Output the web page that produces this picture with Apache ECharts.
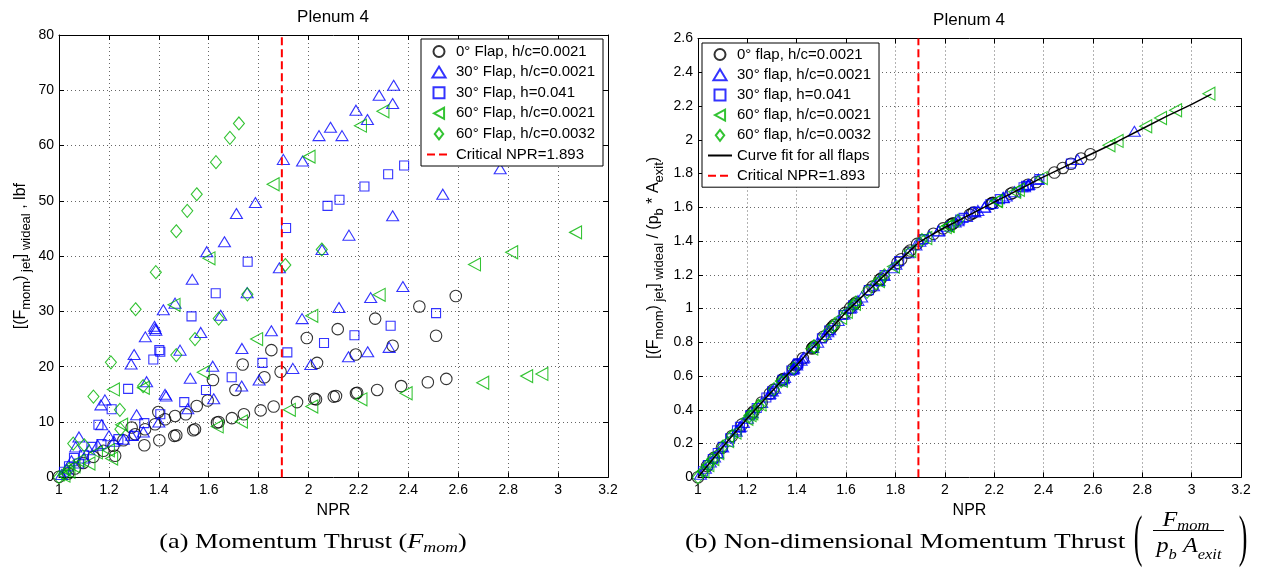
<!DOCTYPE html>
<html><head><meta charset="utf-8">
<script src="https://cdn.jsdelivr.net/npm/echarts@6/dist/echarts.min.js"></script>
<style>html,body{margin:0;padding:0;background:#fff}#c{width:1261px;height:571px}</style>
</head><body><div id="c"></div>
<script>
// ---------- tick values ----------
const nprTicks = [1, 1.2, 1.4, 1.6, 1.8, 2, 2.2, 2.4, 2.6, 2.8, 3, 3.2];
const thrustTicks = [0, 10, 20, 30, 40, 50, 60, 70, 80];
const ratioTicks = [0, 0.2, 0.4, 0.6, 0.8, 1, 1.2, 1.4, 1.6, 1.8, 2, 2.2, 2.4, 2.6];
const criticalNPR = 1.893;

// ---------- 0 deg flap, h/c=0.0021 ----------
const circleNPR = [1.00,1.037,1.064,1.097,1.138,1.178,1.218,1.225,1.258,1.291,
  1.305,1.342,1.345,1.385,1.398,1.402,1.425,1.462,1.465,1.47,
  1.508,1.538,1.545,1.552,1.596,1.617,1.633,1.64,1.693,1.707,
  1.736,1.741,1.808,1.823,1.851,1.86,1.888,1.954,1.993,2.023,
  2.03,2.034,2.101,2.11,2.117,2.189,2.19,2.195,2.267,2.275,
  2.337,2.371,2.444,2.478,2.511,2.552,2.59];
const circleThrust = [0.1,0.7,1.6,2.6,3.7,4.8,5.7,3.9,6.7,9.0,
  7.8,5.8,8.7,9.6,11.8,6.7,10.5,7.5,11.1,7.6,
  11.4,8.5,8.7,12.9,13.9,17.6,9.9,10.0,10.7,15.8,
  20.4,11.4,12.1,18.1,23.0,12.8,19.1,13.6,25.2,14.2,
  14.1,20.7,14.6,14.7,26.8,22.2,15.2,15.3,28.7,15.8,
  23.8,16.5,30.9,17.2,25.6,17.8,32.8];
const circleRatio = [0,0.067,0.115,0.175,0.245,0.313,0.379,0.39,0.443,0.496,
  0.518,0.577,0.582,0.643,0.662,0.668,0.705,0.763,0.768,0.775,
  0.833,0.88,0.892,0.903,0.974,1.004,1.026,1.036,1.11,1.13,
  1.17,1.177,1.271,1.292,1.331,1.344,1.383,1.443,1.475,1.497,
  1.50,1.505,1.556,1.563,1.568,1.622,1.623,1.626,1.68,1.686,
  1.733,1.75,1.806,1.833,1.858,1.889,1.914];

// ---------- 30 deg flap, h/c=0.0021 ----------
const tri30NPR = [1.01,1.03,1.05,1.067,1.08,1.10,1.12,1.155,1.168,1.171,
  1.184,1.20,1.22,1.258,1.289,1.291,1.301,1.311,1.338,1.346,
  1.351,1.383,1.385,1.388,1.40,1.418,1.425,1.429,1.465,1.485,
  1.516,1.526,1.534,1.568,1.592,1.616,1.62,1.648,1.663,1.711,
  1.732,1.733,1.754,1.787,1.802,1.851,1.883,1.899,1.937,1.974,
  1.976,2.009,2.042,2.054,2.088,2.122,2.134,2.16,2.162,2.19,
  2.236,2.237,2.249,2.283,2.323,2.337,2.337,2.341,2.378,2.538,
  2.768];
const tri30Thrust = [0.5,1.5,3.0,5.5,7.3,3.5,5.0,5.8,13.1,9.5,
  14.0,7.5,6.5,6.9,20.5,7.6,22.2,11.3,8.2,25.4,
  17.3,27.3,26.9,26.6,10.0,30.3,15.0,14.7,31.5,23.0,
  12.4,17.9,35.8,26.2,40.8,20.1,14.2,29.3,42.6,47.7,
  16.5,23.3,33.4,49.7,17.6,26.5,37.9,57.5,19.7,28.7,
  57.2,20.4,61.8,41.2,63.3,30.7,61.8,21.8,43.8,66.4,
  64.7,22.7,32.5,69.1,23.5,67.6,47.3,70.9,34.5,51.2,
  55.8];
const tri30Ratio = [0.018,0.054,0.09,0.12,0.144,0.18,0.214,0.273,0.296,0.301,
  0.324,0.35,0.382,0.443,0.492,0.496,0.512,0.528,0.571,0.584,
  0.592,0.64,0.643,0.647,0.665,0.694,0.705,0.711,0.769,0.80,
  0.846,0.862,0.874,0.929,0.967,1.002,1.008,1.047,1.068,1.135,
  1.165,1.166,1.196,1.242,1.263,1.331,1.376,1.399,1.43,1.459,
  1.461,1.487,1.512,1.52,1.546,1.572,1.581,1.60,1.602,1.623,
  1.657,1.658,1.667,1.692,1.722,1.733,1.733,1.736,1.764,1.883,
  2.05];

// ---------- 30 deg flap, h=0.041 ----------
const sq30NPR = [1.02,1.04,1.06,1.08,1.10,1.13,1.158,1.17,1.211,1.238,
  1.277,1.30,1.342,1.378,1.402,1.406,1.406,1.502,1.531,1.589,
  1.628,1.692,1.756,1.815,1.91,1.915,2.062,2.076,2.124,2.184,
  2.224,2.319,2.329,2.383,2.511];
const sq30Thrust = [1.0,2.0,3.5,2.5,4.0,5.5,9.5,6.0,12.3,6.9,
  16.0,7.5,9.8,21.3,23.0,22.7,11.4,13.6,29.1,15.8,
  33.3,18.1,39.0,20.7,45.1,22.6,24.3,49.1,50.2,25.7,
  52.6,54.8,27.4,56.4,29.7];
const sq30Ratio = [0.036,0.072,0.108,0.144,0.18,0.231,0.278,0.299,0.368,0.411,
  0.473,0.51,0.577,0.632,0.668,0.674,0.674,0.823,0.87,0.962,
  1.019,1.109,1.198,1.281,1.408,1.412,1.527,1.537,1.573,1.618,
  1.648,1.719,1.727,1.767,1.859];

// ---------- 60 deg flap, h/c=0.0021 ----------
const tri60NPR = [1.02,1.04,1.06,1.08,1.12,1.15,1.198,1.211,1.218,1.251,
  1.338,1.461,1.578,1.601,1.634,1.731,1.792,1.858,1.923,2.002,
  2.013,2.013,2.208,2.21,2.283,2.298,2.391,2.665,2.698,2.814,
  2.874,2.935,3.07];
const tri60Thrust = [0.3,1.0,2.0,3.0,2.5,4.5,4.9,3.4,15.9,9.5,
  16.2,31.2,19.0,39.6,9.2,10.1,25.0,53.0,12.2,58.0,
  12.8,29.2,63.6,14.1,33.0,66.2,15.2,38.5,17.1,40.7,
  18.3,18.7,44.3];
const tri60Ratio = [0.036,0.072,0.108,0.144,0.214,0.265,0.347,0.368,0.379,0.432,
  0.571,0.762,0.945,0.981,1.028,1.163,1.249,1.341,1.418,1.482,
  1.49,1.49,1.636,1.638,1.692,1.704,1.773,1.967,1.993,2.08,
  2.129,2.175,2.273];

// ---------- 60 deg flap, h/c=0.0032 ----------
const dia60NPR = [1.00,1.02,1.04,1.057,1.101,1.138,1.208,1.244,1.246,1.307,
  1.337,1.388,1.47,1.47,1.514,1.545,1.552,1.629,1.64,1.685,
  1.721,1.755,1.907,2.053];
const dia60Thrust = [0.0,0.5,1.5,6.1,5.8,14.6,20.8,12.2,8.7,30.4,
  16.5,37.1,22.1,44.5,48.2,25.0,51.2,57.0,28.7,61.4,
  64.0,33.1,38.4,41.2];
const dia60Ratio = [0,0.036,0.072,0.103,0.182,0.245,0.363,0.421,0.424,0.521,
  0.569,0.647,0.776,0.776,0.842,0.892,0.903,1.021,1.036,1.099,
  1.149,1.197,1.406,1.52];

// ---------- curve fit (right plot) ----------
const fitNPR = [1.0,1.05,1.1,1.15,1.2,1.25,1.3,1.35,1.4,1.45,1.5,1.55,1.6,1.65,1.7,1.75,1.8,1.85,1.893,1.95,2.0,2.1,2.2,2.3,2.4,2.5,2.6,2.7,2.8,2.9,3.0,3.08];
const fitRatio = [0,0.09,0.18,0.265,0.35,0.43,0.51,0.59,0.665,0.745,0.82,0.90,0.98,1.05,1.12,1.19,1.26,1.33,1.39,1.44,1.48,1.555,1.63,1.705,1.78,1.85,1.92,1.99,2.065,2.14,2.21,2.27];

// ---------- styling ----------
const SANS = 'Liberation Sans, Arial, Helvetica, sans-serif';
const SERIF = 'Liberation Serif, Times New Roman, serif';
const BLACK = '#000000', BLUE = '#0000ff', GREEN = '#00b400', RED = '#ff0000';
const TRI_UP = 'path://M6,0L12,10L0,10Z';
const SQUARE = 'path://M0,0L10,0L10,10L0,10Z';
const DIAMOND = 'path://M5,0L10,6.5L5,13L0,6.5Z';
const LEFT_TRI = 'path://M0,6.5L12,0L12,13Z';
const NOFILL = 'rgba(0,0,0,0)';

const step = t => Math.round((t[1] - t[0]) * 1000) / 1000;
const fmt = v => String(Math.round(v * 10) / 10);
const pairs = (xs, ys) => xs.map((x, i) => [x, ys[i]]);

function scatter(name, xs, ys, symbol, size, color, gi) {
  return {
    type: 'scatter', name, xAxisIndex: gi * 2, yAxisIndex: gi * 2,
    data: pairs(xs, ys), symbol, symbolSize: size, clip: false, silent: true,
    itemStyle: { color: NOFILL, borderColor: color, borderWidth: 1.1 },
    emphasis: { disabled: true }
  };
}

function xAxes(gi, ticks) {
  const base = { gridIndex: gi, type: 'value', min: ticks[0], max: ticks[ticks.length - 1], interval: step(ticks) };
  return [
    Object.assign({}, base, {
      position: 'bottom',
      axisLine: { show: true, onZero: false, lineStyle: { color: BLACK, width: 1 } },
      axisTick: { show: true, inside: true, length: 5, lineStyle: { color: BLACK } },
      axisLabel: { formatter: fmt, color: BLACK, fontSize: 14, fontFamily: SANS, margin: 6, lineHeight: 14, showMinLabel: true, showMaxLabel: true, hideOverlap: false },
      splitLine: { show: true, lineStyle: { color: '#666', type: [1, 3], width: 1 } },
      name: 'NPR', nameLocation: 'middle', nameGap: 16,
      nameTextStyle: { color: BLACK, fontSize: 16, fontFamily: SANS, lineHeight: 16 }
    }),
    Object.assign({}, base, {
      position: 'top',
      axisLine: { show: true, onZero: false, lineStyle: { color: BLACK, width: 1 } },
      axisTick: { show: true, inside: true, length: 5, lineStyle: { color: BLACK } },
      axisLabel: { show: false }, splitLine: { show: false }
    })
  ];
}

function yAxes(gi, ticks, nameText, gap) {
  const base = { gridIndex: gi, type: 'value', min: ticks[0], max: ticks[ticks.length - 1], interval: step(ticks) };
  return [
    Object.assign({}, base, {
      position: 'left',
      axisLine: { show: true, onZero: false, lineStyle: { color: BLACK, width: 1 } },
      axisTick: { show: true, inside: true, length: 5, lineStyle: { color: BLACK } },
      axisLabel: { formatter: fmt, color: BLACK, fontSize: 14, fontFamily: SANS, margin: 5, showMinLabel: true, showMaxLabel: true, hideOverlap: false },
      splitLine: { show: true, lineStyle: { color: '#666', type: [1, 3], width: 1 } },
      name: nameText, nameLocation: 'middle', nameGap: gap,
      nameTextStyle: {
        color: BLACK, fontSize: 16, fontFamily: SANS, lineHeight: 24,
        rich: { s: { color: BLACK, fontSize: 13, fontFamily: SANS, lineHeight: 12, verticalAlign: 'bottom' } }
      }
    }),
    Object.assign({}, base, {
      position: 'right',
      axisLine: { show: true, onZero: false, lineStyle: { color: BLACK, width: 1 } },
      axisTick: { show: true, inside: true, length: 5, lineStyle: { color: BLACK } },
      axisLabel: { show: false }, splitLine: { show: false }
    })
  ];
}

const leftNames = ['0° Flap, h/c=0.0021', '30° Flap, h/c=0.0021', '30° Flap, h=0.041', '60° Flap, h/c=0.0021', '60° Flap, h/c=0.0032', 'Critical NPR=1.893'];
const rightNames = ['0° flap, h/c=0.0021', '30° flap, h/c=0.0021', '30° flap, h=0.041', '60° flap, h/c=0.0021', '60° flap, h/c=0.0032', 'Curve fit for all flaps', 'Critical NPR=1.893'];

const SYM = [
  ['circle', 11.5, BLACK], [TRI_UP, [12, 10], BLUE], [SQUARE, 9, BLUE], [LEFT_TRI, [12, 13], GREEN], [DIAMOND, [11, 13], GREEN]
];
const leftSets = [[circleNPR, circleThrust], [tri30NPR, tri30Thrust], [sq30NPR, sq30Thrust], [tri60NPR, tri60Thrust], [dia60NPR, dia60Thrust]];
const rightSets = [[circleNPR, circleRatio], [tri30NPR, tri30Ratio], [sq30NPR, sq30Ratio], [tri60NPR, tri60Ratio], [dia60NPR, dia60Ratio]];

function vline(name, xi, y0, y1) {
  return {
    type: 'line', name, xAxisIndex: xi, yAxisIndex: xi, silent: true, symbol: 'none',
    data: [[criticalNPR, y0], [criticalNPR, y1]],
    lineStyle: { color: RED, width: 2, type: [8, 4] }, itemStyle: { color: NOFILL, borderWidth: 0 }
  };
}

const series = [];
leftSets.forEach((s, i) => series.push(scatter(leftNames[i], s[0], s[1], SYM[i][0], SYM[i][1], SYM[i][2], 0)));
series.push(vline('Critical NPR=1.893', 0, thrustTicks[0], thrustTicks[thrustTicks.length - 1]));
rightSets.forEach((s, i) => series.push(scatter(rightNames[i], s[0], s[1], SYM[i][0], SYM[i][1], SYM[i][2], 1)));
series.push({
  type: 'line', name: 'Curve fit for all flaps', xAxisIndex: 2, yAxisIndex: 2, silent: true, symbol: 'none',
  data: pairs(fitNPR, fitRatio), lineStyle: { color: BLACK, width: 1.5 }, itemStyle: { color: NOFILL, borderWidth: 0 }
});
series.push(vline('Critical NPR=1.893', 2, ratioTicks[0], ratioTicks[ratioTicks.length - 1]));

function legend(left, top, names, gap, pad) {
  return {
    data: names, orient: 'vertical', left, top, selectedMode: false,
    padding: pad, itemWidth: 24, itemHeight: 11, itemGap: gap,
    borderColor: BLACK, borderWidth: 1, backgroundColor: '#fff', borderRadius: 0,
    textStyle: { color: BLACK, fontSize: 15, fontFamily: SANS }
  };
}

const subRich = (fs, lh) => ({ fontFamily: SERIF, fontSize: fs, fontStyle: 'italic', color: BLACK, lineHeight: lh, verticalAlign: 'bottom' });
const itRich = (lh) => ({ fontFamily: SERIF, fontSize: 22, fontStyle: 'italic', color: BLACK, lineHeight: lh });

const option = {
  animation: false,
  backgroundColor: '#fff',
  grid: [
    { left: 59, top: 35, width: 549, height: 442.3 },
    { left: 698, top: 38.5, width: 543, height: 438.8 }
  ],
  xAxis: xAxes(0, nprTicks).concat(xAxes(1, nprTicks)),
  yAxis: yAxes(0, thrustTicks, '[(F{s|mom}){s| jet}]{s| wideal} , lbf', 26)
    .concat(yAxes(1, ratioTicks, '[(F{s|mom}){s| jet}]{s| wideal} / (p{s|b} * A{s|exit})', 32)),
  legend: [legend(421, 39, leftNames, 5.6, [5, 8, 4, 5]), legend(702, 43, rightNames, 5.2, [4, 8, 4, 5])],
  series,
  graphic: { elements: [
    { type: 'text', x: 333, y: 17, silent: true, style: { text: 'Plenum 4', fill: BLACK, fontSize: 17, fontFamily: SANS, align: 'center', verticalAlign: 'middle' } },
    { type: 'text', x: 969, y: 20.5, silent: true, style: { text: 'Plenum 4', fill: BLACK, fontSize: 17, fontFamily: SANS, align: 'center', verticalAlign: 'middle' } },
    { type: 'text', x: 313, y: 542, scaleX: 1.19, silent: true, style: {
      text: '(a) Momentum Thrust ({i|F}{s|mom})', fill: BLACK, fontSize: 22, fontFamily: SERIF, lineHeight: 28,
      align: 'center', verticalAlign: 'middle',
      rich: { i: itRich(28), s: subRich(15, 16) } } },
    { type: 'text', x: 685, y: 542, scaleX: 1.24, silent: true, style: {
      text: '(b) Non-dimensional Momentum Thrust', fill: BLACK, fontSize: 22, fontFamily: SERIF, align: 'left', verticalAlign: 'middle' } },
    { type: 'text', x: 1138, y: 540, scaleY: 2.2, silent: true, style: { text: '(', fill: BLACK, fontSize: 26, fontFamily: SERIF, align: 'center', verticalAlign: 'middle' } },
    { type: 'text', x: 1243, y: 540, scaleY: 2.2, silent: true, style: { text: ')', fill: BLACK, fontSize: 26, fontFamily: SERIF, align: 'center', verticalAlign: 'middle' } },
    { type: 'text', x: 1186, y: 520, scaleX: 1.1, silent: true, style: {
      text: '{i|F}{s|mom}', fill: BLACK, fontSize: 22, fontFamily: SERIF, lineHeight: 28, align: 'center', verticalAlign: 'middle',
      rich: { i: itRich(28), s: subRich(15, 18) } } },
    { type: 'line', silent: true, shape: { x1: 1153, y1: 530.5, x2: 1224, y2: 530.5 }, style: { stroke: BLACK, lineWidth: 1 } },
    { type: 'text', x: 1189, y: 546, scaleX: 1.1, silent: true, style: {
      text: '{i|p}{s|b} {i|A}{s|exit}', fill: BLACK, fontSize: 22, fontFamily: SERIF, lineHeight: 34, align: 'center', verticalAlign: 'middle',
      rich: { i: itRich(34), s: subRich(15, 14) } } }
  ] }
};

const chart = echarts.init(document.getElementById('c'), null, { renderer: 'canvas' });
chart.setOption(option);
</script></body></html>
